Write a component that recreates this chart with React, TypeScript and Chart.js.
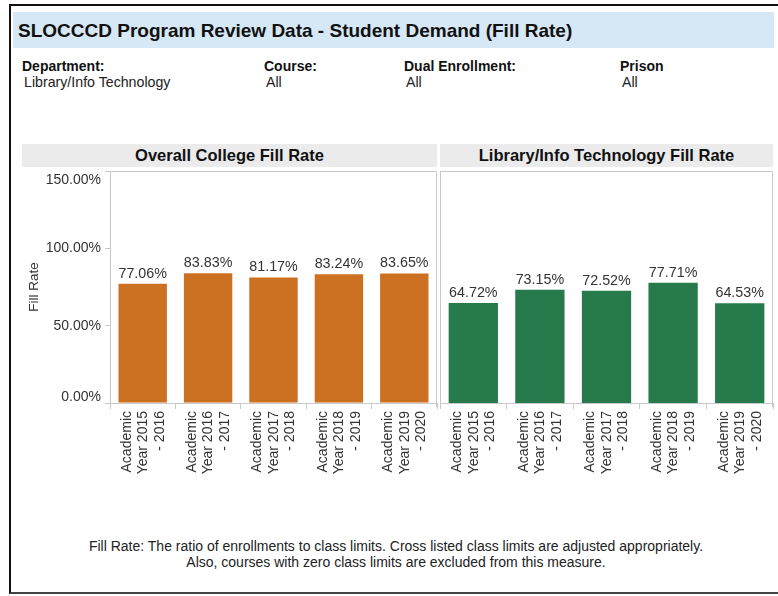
import React, { useEffect, useRef } from "react";
import { Chart, registerables } from "chart.js";

Chart.register(...registerables);

const categories: string[][] = [
  ["Academic", "Year 2015", "- 2016"],
  ["Academic", "Year 2016", "- 2017"],
  ["Academic", "Year 2017", "- 2018"],
  ["Academic", "Year 2018", "- 2019"],
  ["Academic", "Year 2019", "- 2020"],
];
const collegeFillRate = [77.06, 83.83, 81.17, 83.24, 83.65];
const deptFillRate = [64.72, 73.15, 72.52, 77.71, 64.53];
const yTickValues = [0, 50, 100, 150];

const FONT = "'Liberation Sans', Arial, sans-serif";
const TEXT = "#333333";
const LINE = "#c8c8c8";

const panelPlugin = {
  id: "panelDecor",
  afterDraw(chart: any) {
    const { ctx, chartArea } = chart;
    const opts = chart.options.plugins.panelDecor || {};
    ctx.save();
    ctx.strokeStyle = LINE;
    ctx.lineWidth = 1;
    ctx.beginPath();
    ctx.moveTo(Math.round(chartArea.left) + 0.5, Math.round(chartArea.bottom) + 4);
    ctx.lineTo(Math.round(chartArea.left) + 0.5, Math.round(chartArea.top) + 0.5);
    ctx.lineTo(Math.round(chartArea.right) - 0.5, Math.round(chartArea.top) + 0.5);
    ctx.lineTo(Math.round(chartArea.right) - 0.5, Math.round(chartArea.bottom) + 4);
    ctx.stroke();
    ctx.fillStyle = TEXT;
    ctx.font = `14.3px ${FONT}`;
    ctx.textAlign = "center";
    ctx.textBaseline = "bottom";
    const meta = chart.getDatasetMeta(0);
    const data = chart.data.datasets[0].data as number[];
    meta.data.forEach((el: any, i: number) => {
      ctx.fillText(`${data[i].toFixed(2)}%`, el.x, el.y - 3);
    });
    if (opts.showY) {
      const ys = chart.scales.y;
      ctx.textAlign = "right";
      ctx.textBaseline = "middle";
      ctx.font = `14px ${FONT}`;
      yTickValues.forEach((v) => {
        let py = ys.getPixelForValue(v);
        py = Math.max(ys.top + 9, Math.min(ys.bottom - 6, py));
        ctx.fillText(`${v.toFixed(2)}%`, ys.right - 9, py);
      });
    }
    ctx.restore();
  },
};

function BarPanel(props: { values: number[]; color: string; showY: boolean; width: number; padL: number; padR: number }) {
  const ref = useRef<HTMLCanvasElement | null>(null);
  useEffect(() => {
    if (!ref.current) return;
    const showY = props.showY;
    const chart = new Chart(ref.current, {
      type: "bar",
      data: {
        labels: categories,
        datasets: [
          {
            data: props.values,
            backgroundColor: props.color,
            borderWidth: 0,
            categoryPercentage: 1,
            barPercentage: 0.74,
          },
        ],
      },
      options: {
        animation: false,
        responsive: false,
        devicePixelRatio: 1,
        layout: { autoPadding: false, padding: { left: props.padL, right: props.padR, top: 4, bottom: 0 } },
        plugins: {
          legend: { display: false },
          tooltip: { enabled: false },
          panelDecor: { showY },
        } as any,
        scales: {
          x: {
            grid: { display: true, drawOnChartArea: false, drawTicks: true, tickLength: 6, color: LINE, offset: true },
            border: { display: true, color: LINE },
            ticks: {
              autoSkip: false,
              minRotation: 90,
              maxRotation: 90,
              padding: 2,
              labelOffset: -16,
              color: TEXT,
              font: { family: FONT, size: 14, lineHeight: 1.18 },
            },
            afterFit: (s: any) => {
              s.height = 97;
              s.paddingLeft = 0;
              s.paddingRight = 0;
            },
          },
          y: {
            display: showY,
            min: 0,
            max: 150,
            afterBuildTicks: (s: any) => {
              s.ticks = yTickValues.map((v) => ({ value: v }));
            },
            grid: { display: true, drawOnChartArea: false, drawTicks: true, tickLength: 5, color: LINE },
            border: { display: true, color: LINE },
            ticks: { color: "rgba(0,0,0,0)", font: { family: FONT, size: 14 }, callback: (v: any) => `${Number(v).toFixed(2)}%` },
            title: { display: true, text: "Fill Rate", color: TEXT, font: { family: FONT, size: 13.5 }, padding: { top: 4, bottom: 0 } },
            afterFit: (s: any) => {
              s.width = showY ? 88 : 0;
              s.paddingTop = 0;
              s.paddingBottom = 0;
            },
          },
        },
      },
      plugins: [panelPlugin],
    });
    return () => chart.destroy();
  }, []);
  return <canvas ref={ref} width={props.width} height={333} style={{ display: "block", width: props.width, height: 333 }} />;
}

const abs = (l: number, t: number, extra: React.CSSProperties = {}): React.CSSProperties => ({
  position: "absolute",
  left: l,
  top: t,
  ...extra,
});

export default function App() {
  const label: React.CSSProperties = { fontFamily: FONT, fontSize: 14, fontWeight: "bold", color: "#111", whiteSpace: "nowrap", lineHeight: "16px" };
  const value: React.CSSProperties = { fontFamily: FONT, fontSize: 14.2, color: "#222", whiteSpace: "nowrap", lineHeight: "16px" };
  const head: React.CSSProperties = { height: 23, background: "#ebebeb", fontFamily: FONT, fontSize: 16.5, fontWeight: "bold", color: "#111", textAlign: "center", lineHeight: "23px", whiteSpace: "nowrap" };
  return (
    <div style={{ position: "absolute", left: 0, top: 0, width: 778, height: 596, background: "#fff", overflow: "hidden" }}>
      <div style={abs(9, 4, { width: 780, height: 586, borderLeft: "2px solid #111", borderTop: "2px solid #111", borderBottom: "2px solid #444" })} />
      <div style={abs(13, 12, { width: 761, height: 36, background: "#d6e7f5" })} />
      <div style={abs(18, 20, { fontFamily: FONT, fontSize: 19, fontWeight: "bold", color: "#111", whiteSpace: "nowrap", lineHeight: "22px" })}>
        SLOCCCD Program Review Data - Student Demand (Fill Rate)
      </div>
      <div style={abs(22, 58, label)}>Department:</div>
      <div style={abs(24, 74, value)}>Library/Info Technology</div>
      <div style={abs(264, 58, label)}>Course:</div>
      <div style={abs(266, 74, value)}>All</div>
      <div style={abs(404, 58, label)}>Dual Enrollment:</div>
      <div style={abs(406, 74, value)}>All</div>
      <div style={abs(620, 58, label)}>Prison</div>
      <div style={abs(622, 74, value)}>All</div>

      <div style={abs(22, 144, { ...head, width: 415 })}>Overall College Fill Rate</div>
      <div style={abs(440, 144, { ...head, width: 333 })}>Library/Info Technology Fill Rate</div>

      <div style={abs(22, 167)}>
        <BarPanel values={collegeFillRate} color="#cc7122" showY={true} width={416} padL={0} padR={1} />
      </div>
      <div style={abs(436, 167)}>
        <BarPanel values={deptFillRate} color="#267a4b" showY={false} width={341} padL={4} padR={4} />
      </div>

      <div style={abs(0, 538, { width: 792, textAlign: "center", fontFamily: FONT, fontSize: 14, color: "#222", lineHeight: "16px", whiteSpace: "nowrap" })}>
        Fill Rate: The ratio of enrollments to class limits. Cross listed class limits are adjusted appropriately.
        <br />
        Also, courses with zero class limits are excluded from this measure.
      </div>
    </div>
  );
}
